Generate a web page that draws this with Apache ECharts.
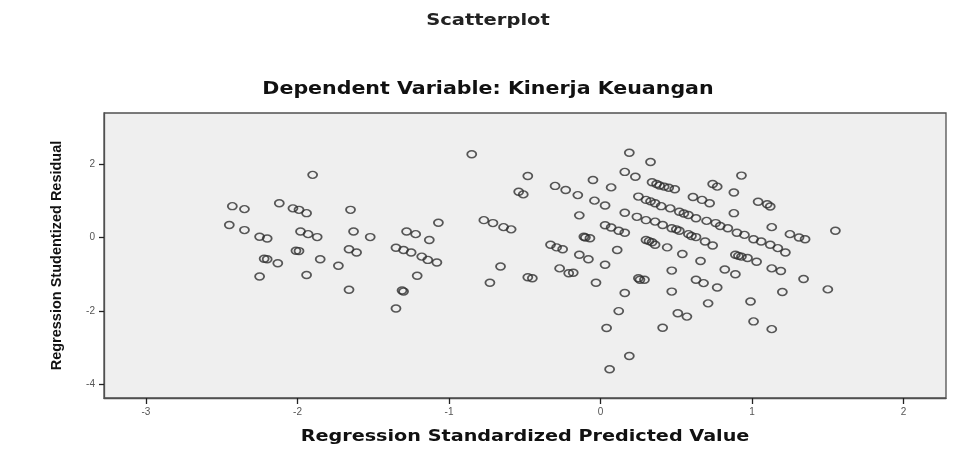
<!DOCTYPE html>
<html>
<head>
<meta charset="utf-8">
<script src="https://cdn.jsdelivr.net/npm/echarts@6/dist/echarts.min.js"></script>
<style>
  html, body { margin: 0; padding: 0; background: #fff; }
  #chart { width: 957px; height: 455px; }
</style>
</head>
<body>
<div id="chart"></div>
<script>
// Regression Standardized Predicted Value
var predicted = [
	-2.45, -2.43, -2.35, -2.35, -2.25, -2.20, -2.25, -2.22, -2.20, -2.13,
	-2.12, -2.03, -1.99, -1.94, -1.98, -1.93, -1.87, -2.01, -1.99, -1.85,
	-1.94, -1.90, -1.73, -1.65, -1.63, -1.66, -1.61, -1.66, -1.52,
	-1.28, -1.22, -1.07, -1.13, -1.35, -1.30, -1.25, -1.18, -1.14, -1.08, -1.21, -1.31, -1.30, -1.35,
	-0.85, -0.77, -0.71, -0.64, -0.59, -0.66, -0.73, -0.54, -0.51, -0.48, -0.48, -0.45,
	-0.33, -0.29, -0.25, -0.27, -0.21, -0.18, -0.30, -0.23, -0.15, -0.14, -0.11, -0.07, -0.10, -0.14, -0.08, -0.03,
	-0.05, -0.04, 0.03, 0.07, 0.03, 0.07, 0.12, 0.16, 0.11, 0.03, 0.16, 0.12, 0.04, 0.06, 0.19, 0.19, 0.16, 0.23, 0.33, 0.16, 0.24, 0.25, 0.29, 0.26,
	0.34, 0.37, 0.39, 0.45, 0.49, 0.74, 0.77, 0.93, 0.88, 1.04, 1.10, 1.12, 0.88,
	0.25, 0.30, 0.36, 0.40, 0.46, 0.52, 0.58, 0.63, 0.70, 0.76, 0.61, 0.67, 0.72,
	0.79, 0.84, 0.90, 0.95, 1.01, 1.06, 1.12, 1.17, 1.22, 1.13, 1.25, 1.31, 1.35, 1.55,
	0.30, 0.36, 0.41, 0.47, 0.52, 0.58, 0.63, 0.69, 0.74, 0.89, 0.93, 0.97, 1.03,
	0.30, 0.34, 0.36, 0.44, 0.54, 0.66, 0.47, 0.63, 0.68, 0.77, 0.47, 0.71, 0.51, 0.57, 0.41,
	0.82, 0.89, 1.13, 1.19, 1.34, 1.50, 1.20, 0.99, 1.01, 1.13,
	0.91, 0.42, 0.33, 0.55, 0.50, 0.60, 0.32
];

// Regression Studentized Residual
var residual = [
	0.34, 0.85, 0.77, 0.20, 0.02, -0.03, -1.06, -0.58, -0.59, -0.70,
	0.93, 0.79, 0.75, 0.66, 0.16, 0.09, 0.01, -0.36, -0.37, -0.59,
	-1.02, 1.70, -0.77, 0.75, 0.16, -0.32, -0.41, -1.42, 0.01,
	0.16, 0.09, 0.40, -0.07, -0.28, -0.34, -0.41, -0.52, -0.61, -0.68, -1.04, -1.44, -1.47, -1.93,
	2.26, 0.47, 0.39, 0.28, 0.22, -0.79, -1.23, 1.24, 1.17, 1.67, -1.08, -1.11,
	-0.20, -0.27, -0.32, -0.84, -0.97, -0.96, 1.40, 1.29, 1.15, 0.60, 0.02, -0.02, 0.00, -0.47, -0.59, -1.23,
	1.56, 1.00, 0.87, 1.36, 0.33, 0.27, 0.18, 0.13, -0.34, -0.74, -1.51, -2.00, -2.46, -3.58, -3.22, 2.30, 1.78, 1.65, 2.05, 0.67, 0.56, -1.11, -1.15, -1.15,
	1.50, 1.45, 1.41, 1.35, 1.31, 1.45, 1.38, 1.68, 1.22, 0.97, 0.90, 0.84, 0.66,
	1.11, 1.02, 0.93, 0.85, 0.79, 0.70, 0.61, 0.52, 0.45, 0.39, 1.10, 1.02, 0.93,
	0.31, 0.25, 0.13, 0.07, -0.05, -0.11, -0.20, -0.29, -0.41, 0.28, 0.09, 0.00, -0.05, 0.18,
	0.47, 0.43, 0.34, 0.25, 0.18, 0.09, 0.01, -0.11, -0.22, -0.47, -0.52, -0.56, -0.66,
	-0.07, -0.13, -0.20, -0.27, -0.45, -0.64, -0.90, -1.15, -1.24, -1.36, -1.47, -1.79, -2.06, -2.15, -2.45,
	-0.87, -1.00, -0.84, -0.91, -1.13, -1.41, -1.48, -1.74, -2.28, -2.49,
	-0.50, 1.38, 0.98, 0.65, 0.22, 0.04, -0.10
];

var points = [];
for (var i = 0; i < predicted.length; i++) {
	points.push([predicted[i], residual[i]]);
}

var chart = echarts.init(document.getElementById('chart'));

// SPSS output is stretched sideways, so the titles get a scaleX
var option = {
	backgroundColor: '#ffffff',
	animation: false,
	graphic: [
		{
			type: 'text', x: 488, y: 21, scaleX: 1.3,
			style: { text: 'Scatterplot', font: 'bold 15px "DejaVu Sans"', fill: '#222', align: 'center', verticalAlign: 'middle' }
		},
		{
			type: 'text', x: 488, y: 90, scaleX: 1.21,
			style: { text: 'Dependent Variable: Kinerja Keuangan', font: 'bold 17px "DejaVu Sans"', fill: '#111', align: 'center', verticalAlign: 'middle' }
		},
		{
			type: 'text', x: 525, y: 437, scaleX: 1.2,
			style: { text: 'Regression Standardized Predicted Value', font: 'bold 16px "DejaVu Sans"', fill: '#111', align: 'center', verticalAlign: 'middle' }
		}
	],
	grid: {
		left: 104, right: 11, top: 113, bottom: 57,
		show: true,
		backgroundColor: '#efefef',
		borderColor: '#505050',
		borderWidth: 1.3
	},
	xAxis: {
		type: 'value',
		min: -3.277, max: 2.28,
		splitNumber: 5,
		axisLine: { show: true, onZero: false, lineStyle: { color: '#505050', width: 1.3 } },
		axisTick: { show: true, length: 6, lineStyle: { color: '#222', width: 1.3 } },
		axisLabel: { showMinLabel: false, showMaxLabel: false, fontFamily: 'Liberation Sans', fontSize: 10, color: '#555', margin: 9 },
		splitLine: { show: false }
	},
	yAxis: {
		type: 'value',
		min: -4.36, max: 3.38,
		splitNumber: 4,
		name: 'Regression Studentized Residual',
		nameLocation: 'middle',
		nameGap: 40,
		nameTextStyle: { fontFamily: 'Liberation Sans', fontWeight: 'bold', fontSize: 14.5, color: '#111' },
		axisLine: { show: true, onZero: false, lineStyle: { color: '#505050', width: 1.3 } },
		axisTick: { show: true, length: 5, lineStyle: { color: '#222', width: 1.3 } },
		axisLabel: { showMinLabel: false, showMaxLabel: false, fontFamily: 'Liberation Sans', fontSize: 10, color: '#555', margin: 9 },
		splitLine: { show: false }
	},
	series: [{
		type: 'scatter',
		data: points,
		symbol: 'circle',
		symbolSize: [9, 7],
		itemStyle: {
			color: 'rgba(0,0,0,0)',
			borderColor: '#303030',
			borderWidth: 1.6
		}
	}]
};

chart.setOption(option);
</script>
</body>
</html>
